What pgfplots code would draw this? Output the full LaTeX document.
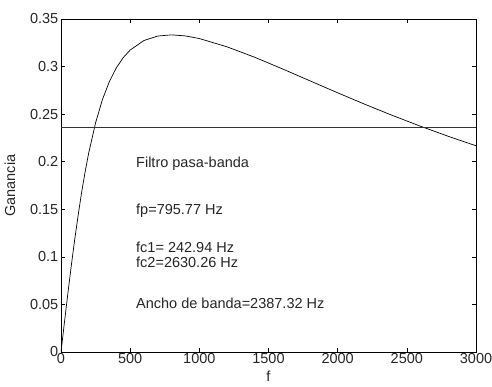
\documentclass[border=0pt]{standalone}
\usepackage{pgfplots}
\pgfplotsset{compat=1.18}
\usepackage{fontspec}
\setmainfont{Liberation Sans}
\newcommand{\mf}{\fontsize{14.5}{16}\selectfont}
\begin{document}
\begin{tikzpicture}
\useasboundingbox (-61pt,-34pt) rectangle (431pt,352pt);
\begin{axis}[
  at={(0pt,0pt)}, anchor=south west,
  scale only axis, width=415pt, height=333pt,
  xmin=0, xmax=3000, ymin=0, ymax=0.35,
  xtick={0,500,...,3000},
  ytick={0,0.05,0.1,0.15,0.2,0.25,0.3,0.35},
  yticklabels={0,0.05,0.1,0.15,0.2,0.25,0.3,0.35},
  xticklabels={0,500,1000,1500,2000,2500,3000},
  tick align=inside, major tick length=4pt,
  tick style={black, line width=0.6pt},
  axis line style={black, line width=0.6pt},
  ticklabel style={font=\mf, text=black!85},
  xticklabel style={inner sep=1.5pt},
  yticklabel style={inner sep=2.5pt},
  xlabel={f}, ylabel={Ganancia},
  label style={font=\mf, text=black!85},
  xlabel style={inner sep=0pt, yshift=-5pt},
  ylabel style={inner sep=0pt, yshift=12pt},
  clip=true,
]
\addplot[black, line width=0.7pt] coordinates {
(0,0) (25,0.031308) (50,0.061982) (75,0.091445) (100,0.119233) (125,0.14477)
(150,0.168598) (175,0.18982) (200,0.208995) (250,0.240907) (300,0.265575)
(350,0.28434) (400,0.298668) (450,0.30946) (500,0.317375) (600,0.327429) (700,0.332116)
(800,0.333332) (900,0.332212) (1000,0.329468) (1200,0.320769) (1400,0.309815)
(1600,0.297615) (1800,0.284996) (2000,0.272420) (2200,0.260164) (2400,0.248404)
(2600,0.237230) (2800,0.226682) (3000,0.216763)
};
\addplot[black!80, line width=0.7pt] coordinates {(0,0.2357) (3000,0.2357)};
\node[anchor=base west, font=\mf, text=black!85] at (axis cs:518,0.1944) {Filtro pasa-banda};
\node[anchor=base west, font=\mf, text=black!85] at (axis cs:518,0.1440) {fp=795.77 Hz};
\node[anchor=base west, font=\mf, text=black!85] at (axis cs:518,0.1041) {fc1= 242.94 Hz};
\node[anchor=base west, font=\mf, text=black!85] at (axis cs:518,0.0883) {fc2=2630.26 Hz};
\node[anchor=base west, font=\mf, text=black!85] at (axis cs:518,0.0452) {Ancho de banda=2387.32 Hz};
\end{axis}
\end{tikzpicture}
\end{document}
